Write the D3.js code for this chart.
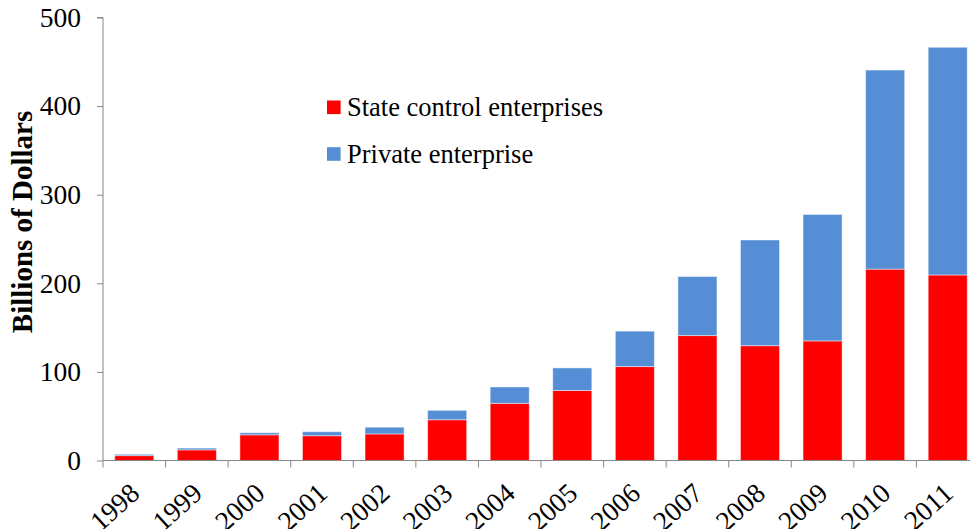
<!DOCTYPE html>
<html>
<head>
<meta charset="utf-8">
<script src="https://cdn.jsdelivr.net/npm/d3@7"></script>
<style>
  html, body { margin: 0; padding: 0; background: #fff; overflow: hidden; }
  svg { display: block; }
  text { font-family: "Liberation Serif", "Times New Roman", serif; fill: #000; }
</style>
</head>
<body>
<svg id="chart" width="970" height="529"></svg>
<script>
const years = ["1998","1999","2000","2001","2002","2003","2004","2005","2006","2007","2008","2009","2010","2011"];
const stateValues = [5.5, 12, 29, 28, 30, 46, 64.5, 79, 106, 141, 129.6, 135, 216, 209.4];
const privateValues = [1.5, 2, 2.3, 4.5, 7.6, 10.6, 18.5, 25.5, 40, 66.6, 119.3, 142.7, 224.7, 257];
const yTicks = [0, 100, 200, 300, 400, 500];
const seriesNames = ["State control enterprises", "Private enterprise"];
const seriesColors = ["#ff0000", "#558ed5"];

const svg = d3.select("#chart");
const x0 = 103, x1 = 979, yTop = 17.5, yBottom = 460.5;

const x = d3.scaleBand().domain(years).range([x0, x1]).paddingInner(0.376).paddingOuter(0.188);
const y = d3.scaleLinear().domain([0, 500]).range([yBottom, yTop]);

const rows = years.map((yr, i) => ({ year: yr, state: stateValues[i], priv: privateValues[i] }));
const stack = d3.stack().keys(["state", "priv"])(rows);

const g = svg.append("g");
g.selectAll("g.series").data(stack).join("g")
  .attr("fill", (d, i) => seriesColors[i])
  .selectAll("rect").data(d => d).join("rect")
  .attr("x", d => x(d.data.year))
  .attr("width", x.bandwidth())
  .attr("y", d => y(d[1]))
  .attr("height", d => y(d[0]) - y(d[1]))
  .attr("stroke", "#ffffff")
  .attr("stroke-opacity", 0.45)
  .attr("stroke-width", 1);

// Y axis
const yAxis = d3.axisLeft(y).tickValues(yTicks).tickSize(6).tickPadding(16).tickFormat(d3.format("d"));
const ya = svg.append("g").attr("transform", `translate(${x0},0)`).call(yAxis);
ya.attr("font-family", null);
ya.select(".domain").attr("stroke", "#868686").attr("d", `M-6,${yTop}H0V${yBottom}`);
ya.selectAll(".tick line").attr("stroke", "#868686");
ya.selectAll(".tick text").style("font-size", "27.5px");

// X axis with ticks at band boundaries
const xa = svg.append("g");
xa.append("line").attr("x1", x0).attr("x2", 970).attr("y1", yBottom).attr("y2", yBottom).attr("stroke", "#868686");
const step = x.step();
const boundaries = years.map((yr) => x(yr) - x.paddingOuter() * step);
xa.selectAll("line.tk").data(boundaries).join("line").attr("class", "tk")
  .attr("x1", d => d).attr("x2", d => d).attr("y1", yBottom).attr("y2", yBottom + 7)
  .attr("stroke", "#868686");
xa.selectAll("text.xl").data(years).join("text").attr("class", "xl")
  .attr("transform", d => `translate(${x(d) + x.bandwidth() / 2 + 7},${yBottom + 35}) rotate(-42)`)
  .attr("text-anchor", "end")
  .style("font-size", "27.5px")
  .text(d => d);

// Y title
svg.append("text")
  .attr("transform", `translate(32,222) rotate(-90)`)
  .attr("text-anchor", "middle")
  .style("font-size", "29px").style("font-weight", "bold")
  .text("Billions of Dollars");

// Legend
const leg = svg.append("g");
seriesNames.forEach((name, i) => {
  const cy = 107.3 + i * 46.7;
  leg.append("rect").attr("x", 327).attr("y", cy - 6.8).attr("width", 13.6).attr("height", 13.6).attr("fill", seriesColors[i]);
  leg.append("text").attr("x", 347).attr("y", cy + 8.5).style("font-size", "26.5px").text(name);
});
</script>
</body>
</html>
